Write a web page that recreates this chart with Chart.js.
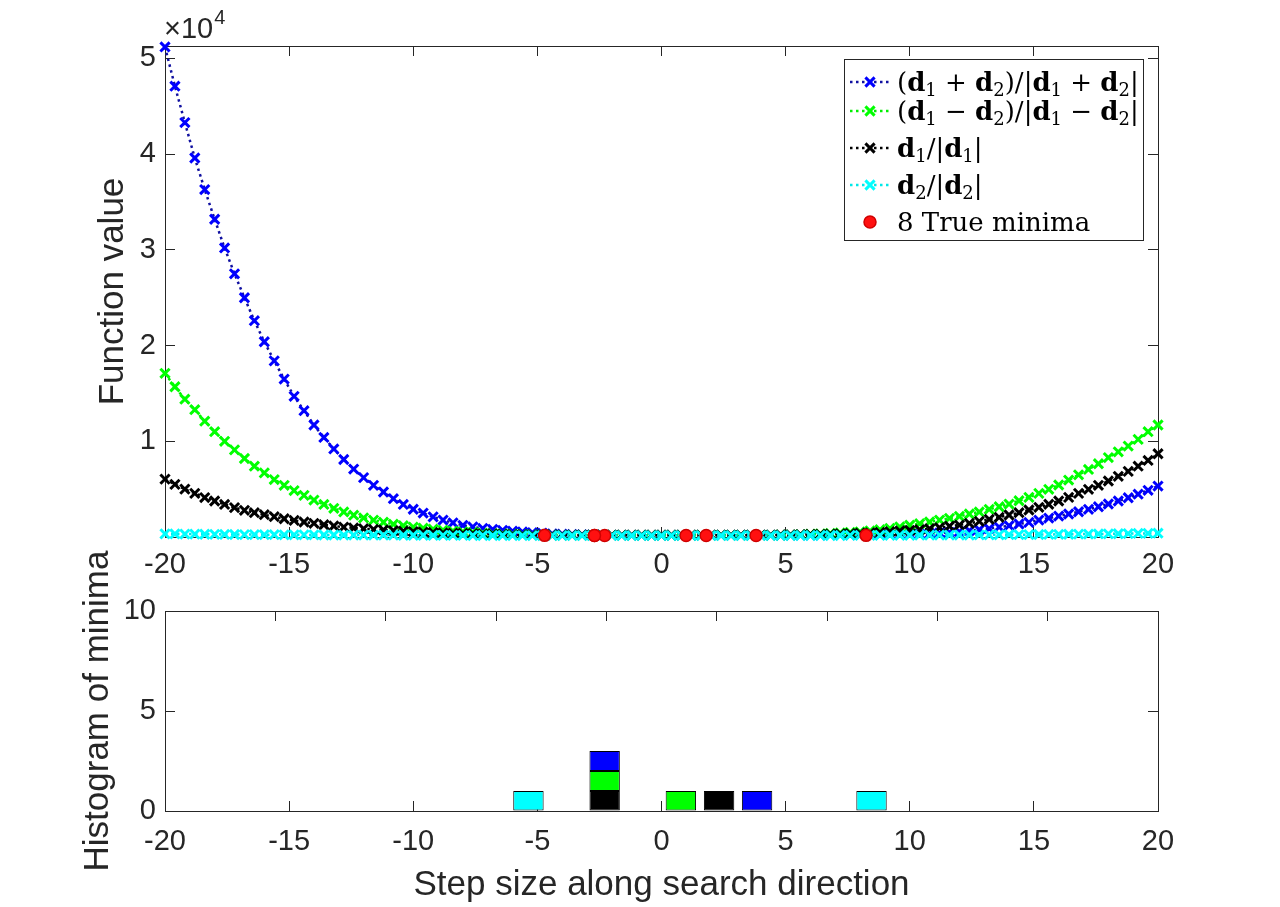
<!DOCTYPE html>
<html>
<head>
<meta charset="utf-8">
<script src="https://cdn.jsdelivr.net/npm/chart.js@4.4.0/dist/chart.umd.min.js"></script>
<style>
  html, body { margin: 0; padding: 0; background: #fff; }
  #wrap { position: relative; width: 1280px; height: 907px; }
  #topChart { position: absolute; left: 0; top: 0; }
  #histChart { position: absolute; left: 0; top: 540px; }
</style>
</head>
<body>
<div id="wrap">
  <canvas id="topChart" width="1280" height="590"></canvas>
  <canvas id="histChart" width="1280" height="367"></canvas>
</div>
<script>
// step sizes sampled along the search direction
const steps = [
  -20, -19.6, -19.2, -18.8, -18.4, -18, -17.6, -17.2, -16.8, -16.4,
  -16, -15.6, -15.2, -14.8, -14.4, -14, -13.6, -13.2, -12.8, -12.4,
  -12, -11.6, -11.2, -10.8, -10.4, -10, -9.6, -9.2, -8.8, -8.4,
  -8, -7.6, -7.2, -6.8, -6.4, -6, -5.6, -5.2, -4.8, -4.4,
  -4, -3.6, -3.2, -2.8, -2.4, -2, -1.6, -1.2, -0.8, -0.4,
  0,
  0.4, 0.8, 1.2, 1.6, 2, 2.4, 2.8, 3.2, 3.6, 4,
  4.4, 4.8, 5.2, 5.6, 6, 6.4, 6.8, 7.2, 7.6, 8,
  8.4, 8.8, 9.2, 9.6, 10, 10.4, 10.8, 11.2, 11.6, 12,
  12.4, 12.8, 13.2, 13.6, 14, 14.4, 14.8, 15.2, 15.6, 16,
  16.4, 16.8, 17.2, 17.6, 18, 18.4, 18.8, 19.2, 19.6, 20
];

const fSum = [
  51200, 47100, 43300, 39600, 36300, 33200, 30200, 27500, 25000, 22600,
  20400, 18400, 16500, 14700, 13200, 11700, 10400, 9200, 8100, 7100,
  6200, 5400, 4700, 4000, 3400, 2900, 2500, 2100, 1770, 1480,
  1220, 1060, 900, 800, 700, 600, 520, 450, 390, 330,
  290, 260, 240, 220, 210, 200, 200, 200, 190, 190,
  190,
  190, 190, 190, 190, 190, 190, 190, 200, 200, 200,
  200, 200, 200, 210, 210, 210, 220, 220, 230, 240,
  250, 260, 270, 280, 290, 310, 340, 420, 490, 550,
  660, 760, 870, 1040, 1180, 1360, 1530, 1770, 1980, 2190,
  2400, 2640, 2890, 3160, 3450, 3760, 4100, 4470, 4880, 5320
];

const fDiff = [
  17100, 15700, 14400, 13300, 12100, 11000, 10000, 9100, 8200, 7400,
  6700, 6000, 5400, 4850, 4350, 3860, 3400, 3000, 2620, 2280,
  2000, 1760, 1540, 1340, 1180, 1040, 920, 810, 710, 620,
  540, 470, 410, 360, 320, 290, 260, 240, 220, 210,
  200, 200, 190, 190, 190, 190, 190, 190, 190, 190,
  190,
  190, 190, 190, 190, 190, 190, 190, 190, 190, 200,
  200, 210, 220, 250, 290, 330, 370, 420, 480, 540,
  640, 760, 900, 1060, 1230, 1390, 1570, 1770, 1950, 2160,
  2400, 2620, 2890, 3160, 3440, 3790, 4140, 4560, 4980, 5430,
  5950, 6500, 7060, 7650, 8300, 8900, 9500, 10200, 11000, 11700
];

const fD1 = [
  6050, 5500, 5000, 4560, 4120, 3760, 3400, 3070, 2790, 2540,
  2330, 2120, 1910, 1740, 1570, 1430, 1280, 1150, 1040, 940,
  870, 800, 730, 670, 610, 560, 510, 470, 430, 400,
  370, 340, 310, 290, 270, 250, 240, 230, 220, 210,
  200, 200, 190, 190, 190, 190, 190, 190, 190, 190,
  190,
  190, 190, 190, 190, 190, 190, 190, 190, 190, 200,
  200, 210, 220, 240, 260, 280, 300, 330, 360, 390,
  430, 480, 550, 630, 700, 760, 870, 970, 1120, 1250,
  1430, 1640, 1850, 2060, 2300, 2540, 2820, 3100, 3420, 3760,
  4140, 4560, 4980, 5400, 5850, 6340, 6860, 7400, 8000, 8700
];

const fD2 = [
  330, 320, 310, 300, 290, 280, 270, 260, 250, 250,
  240, 240, 230, 230, 220, 220, 210, 210, 200, 200,
  200, 190, 190, 190, 180, 180, 180, 170, 170, 170,
  170, 160, 160, 160, 160, 150, 150, 150, 150, 150,
  150, 150, 150, 150, 150, 150, 150, 150, 150, 150,
  150,
  150, 150, 150, 150, 150, 150, 150, 150, 150, 150,
  150, 150, 150, 160, 160, 160, 160, 160, 170, 170,
  170, 170, 180, 180, 180, 190, 190, 200, 200, 210,
  210, 220, 220, 230, 240, 240, 250, 260, 270, 280,
  290, 300, 310, 320, 330, 340, 350, 370, 380, 400
];

// true minima
const minimaX = [-4.71, -2.70, -2.29, 0.99, 1.80, 3.81, 8.24, -2.70];
const minimaY = [170, 160, 160, 160, 160, 160, 170, 160];

const yTicks = [10000, 20000, 30000, 40000, 50000];
const xTicks = [-20, -15, -10, -5, 0, 5, 10, 15, 20];

// histogram of minima found per direction
const binCenters = [-5.36, -3.83, -2.29, -0.76, 0.78, 2.32, 3.85, 5.39, 6.92, 8.46];
const histD1 = [0, 0, 1, 0, 0, 1, 0, 0, 0, 0];
const histDiff = [0, 0, 1, 0, 1, 0, 0, 0, 0, 0];
const histSum = [0, 0, 1, 0, 0, 0, 1, 0, 0, 0];
const histD2 = [1, 0, 0, 0, 0, 0, 0, 0, 0, 1];
const histTicks = [0, 5, 10];

const labels = ["(d1 + d2)/|d1 + d2|", "(d1 \u2212 d2)/|d1 \u2212 d2|", "d1/|d1|", "d2/|d2|", "8 True minima"];

const INK = "#262626";
const SANS = "'Liberation Sans', Arial, sans-serif";
const TICK = 29, LABEL = 35;
Chart.defaults.font.family = SANS;
Chart.defaults.color = INK;

const pts = arr => steps.map((x, i) => ({ x: x, y: arr[i] }));

function curve(label, data, lineColor, markColor, order) {
  return {
    label: label, data: pts(data), order: order,
    borderColor: lineColor, borderWidth: 2.5, borderDash: [2.5, 3.5],
    pointStyle: "crossRot", pointRadius: 6.5, pointBorderWidth: 3,
    pointBorderColor: markColor, pointBackgroundColor: markColor,
    tension: 0, clip: false
  };
}

const tickGrid = { drawOnChartArea: false, tickLength: -10, color: INK, lineWidth: 1 };
const edge = { display: true, color: INK, width: 1 };

// legend drawn inside the axes, like the original
const boxLegend = {
  id: "boxLegend",
  afterDraw(chart) {
    const c = chart.ctx;
    const x0 = 844, y0 = 59, w = 299, h = 181;
    const rowY = [82, 111, 148, 185, 222];
    c.save();
    c.fillStyle = "#fff";
    c.fillRect(x0, y0, w, h);
    c.strokeStyle = INK; c.lineWidth = 1;
    c.strokeRect(x0 + 0.5, y0 + 0.5, w, h);
    chart.data.datasets.forEach((ds, i) => {
      const y = rowY[i];
      if (ds.showLine !== false) {
        c.save();
        c.strokeStyle = ds.borderColor; c.lineWidth = 2.5;
        c.setLineDash([2.5, 3.5]);
        c.beginPath(); c.moveTo(850, y); c.lineTo(890, y); c.stroke();
        c.restore();
      }
      c.strokeStyle = ds.pointBorderColor; c.fillStyle = ds.pointBackgroundColor;
      c.lineWidth = ds.pointBorderWidth;
      Chart.helpers.drawPoint(c, { pointStyle: ds.pointStyle, radius: ds.pointRadius, borderWidth: ds.pointBorderWidth, rotation: 0 }, 870, y);
      drawMath(c, ds.label, 897, y + 9);
    });
    c.restore();
  }
};

// bold vector names with subscripts
function drawMath(c, str, x, y) {
  c.fillStyle = "#000";
  c.textBaseline = "alphabetic";
  c.textAlign = "left";
  for (let i = 0; i < str.length; i++) {
    const ch = str[i];
    const sub = /[0-9]/.test(ch) && str[i - 1] === "d";
    if (sub) c.font = "18px 'DejaVu Serif'";
    else if (ch === "d") c.font = "bold 26px 'DejaVu Serif'";
    else c.font = "26px 'DejaVu Serif'";
    c.fillText(ch, x, sub ? y + 5 : y);
    x += c.measureText(ch).width;
  }
}

const exponent = {
  id: "exponent",
  afterDraw(chart) {
    const c = chart.ctx;
    c.save();
    c.fillStyle = INK;
    c.textBaseline = "alphabetic";
    c.font = TICK + "px " + SANS;
    c.fillText("\u00d710", 164, 38);
    const wd = c.measureText("\u00d710").width;
    c.font = "20px " + SANS;
    c.fillText("4", 164 + wd + 1, 24);
    c.restore();
  }
};

new Chart(document.getElementById("topChart"), {
  type: "line",
  data: {
    datasets: [
      curve(labels[0], fSum, "#1010a0", "#0000ff", 4),
      curve(labels[1], fDiff, "#00ee00", "#00ff00", 3),
      curve(labels[2], fD1, "#000000", "#000000", 2),
      curve(labels[3], fD2, "#00e8e8", "#00ffff", 1),
      {
        label: labels[4], data: minimaX.map((x, i) => ({ x: x, y: minimaY[i] })), order: 0,
        showLine: false, pointStyle: "circle", pointRadius: 6, pointBorderWidth: 1.5,
        pointBorderColor: "#d00000", pointBackgroundColor: "#ff1010", clip: false
      }
    ]
  },
  options: {
    responsive: false, animation: false, devicePixelRatio: 1,
    layout: { padding: { left: 90, right: 122, top: 46, bottom: 0 } },
    plugins: { legend: { display: false }, tooltip: { enabled: false } },
    scales: {
      x: {
        type: "linear", position: "bottom", min: -20, max: 20,
        afterBuildTicks: s => { s.ticks = xTicks.map(v => ({ value: v })); },
        ticks: { font: { size: TICK }, color: INK, padding: 21, callback: v => String(v), maxRotation: 0 },
        grid: tickGrid, border: edge,
        afterFit: s => { s.height = 53; }
      },
      x2: {
        type: "linear", position: "top", min: -20, max: 20,
        afterBuildTicks: s => { s.ticks = xTicks.map(v => ({ value: v })); },
        ticks: { display: false }, grid: tickGrid, border: edge,
        afterFit: s => { s.height = 0; }
      },
      y: {
        type: "linear", position: "left", min: 0, max: 51300,
        afterBuildTicks: s => { s.ticks = yTicks.map(v => ({ value: v })); },
        ticks: { font: { size: TICK }, color: INK, padding: 19, callback: v => String(v / 10000) },
        grid: tickGrid, border: edge,
        title: { display: true, text: "Function value", font: { size: LABEL }, color: INK, padding: { top: 2, bottom: 0 } },
        afterFit: s => { s.width = 75; }
      },
      y2: {
        type: "linear", position: "right", min: 0, max: 51300,
        afterBuildTicks: s => { s.ticks = yTicks.map(v => ({ value: v })); },
        ticks: { display: false }, grid: tickGrid, border: edge,
        afterFit: s => { s.width = 0; }
      }
    }
  },
  plugins: [boxLegend, exponent]
});

function histSet(label, counts, color) {
  return {
    label: label, data: binCenters.map((x, i) => ({ x: x, y: counts[i] })),
    backgroundColor: color, borderColor: "#000",
    borderWidth: ctx => (ctx.raw && ctx.raw.y ? 1 : 0),
    borderSkipped: false,
    categoryPercentage: 1, barPercentage: 0.8, stack: "all"
  };
}

new Chart(document.getElementById("histChart"), {
  type: "bar",
  data: {
    datasets: [
      histSet(labels[2], histD1, "#000000"),
      histSet(labels[1], histDiff, "#00ff00"),
      histSet(labels[0], histSum, "#0000ff"),
      histSet(labels[3], histD2, "#00ffff")
    ]
  },
  options: {
    responsive: false, animation: false, devicePixelRatio: 1,
    layout: { padding: { left: 75, right: 122, top: 71, bottom: 0 } },
    plugins: { legend: { display: false }, tooltip: { enabled: false } },
    scales: {
      x: {
        type: "linear", position: "bottom", min: -20, max: 20, stacked: true, offset: false,
        afterBuildTicks: s => { s.ticks = xTicks.map(v => ({ value: v })); },
        ticks: { font: { size: TICK }, color: INK, padding: 24, callback: v => String(v), maxRotation: 0 },
        grid: Object.assign({}, tickGrid, { offset: false }), border: edge,
        title: { display: true, text: "Step size along search direction", font: { size: LABEL }, color: INK, padding: { top: 0, bottom: 1 } },
        afterFit: s => { s.height = 96; }
      },
      x2: {
        type: "linear", position: "top", min: -20, max: 20,
        afterBuildTicks: s => { s.ticks = xTicks.map(v => ({ value: v })); },
        ticks: { display: false }, grid: tickGrid, border: edge,
        afterFit: s => { s.height = 0; }
      },
      y: {
        type: "linear", position: "left", min: 0, max: 10, stacked: true,
        afterBuildTicks: s => { s.ticks = histTicks.map(v => ({ value: v })); },
        ticks: { font: { size: TICK }, color: INK, padding: 19 },
        grid: tickGrid, border: edge,
        title: { display: true, text: "Histogram of minima", font: { size: LABEL }, color: INK, padding: { top: 2, bottom: 0 } },
        afterFit: s => { s.width = 90; }
      },
      y2: {
        type: "linear", position: "right", min: 0, max: 10,
        afterBuildTicks: s => { s.ticks = histTicks.map(v => ({ value: v })); },
        ticks: { display: false }, grid: tickGrid, border: edge,
        afterFit: s => { s.width = 0; }
      }
    }
  }
});
</script>
</body>
</html>
